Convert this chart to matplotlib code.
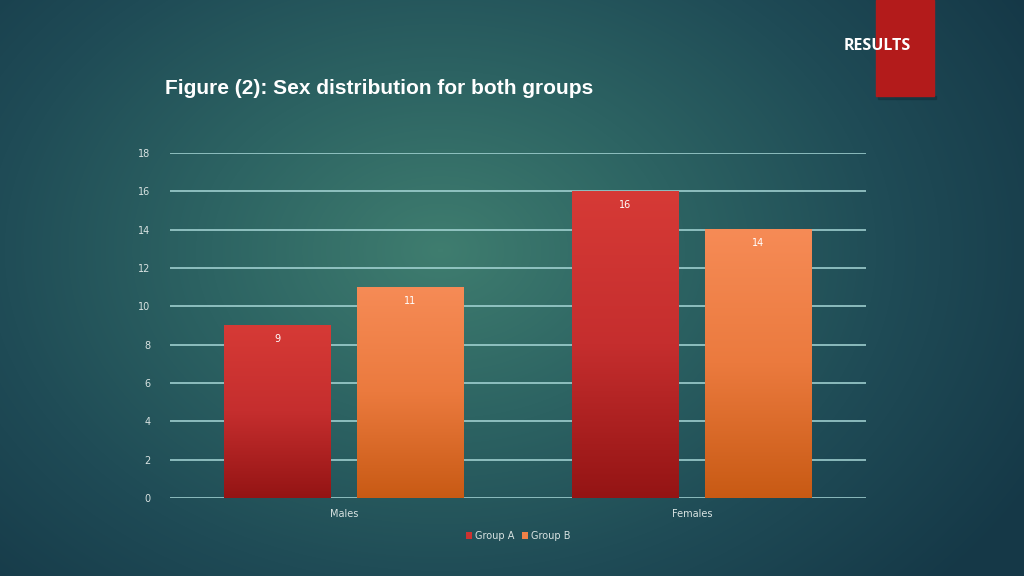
import numpy as np
import matplotlib.pyplot as plt
from matplotlib.colors import LinearSegmentedColormap
from matplotlib.patches import Rectangle

categories = ["Males", "Females"]
group_a = [9, 16]
group_b = [11, 14]
series_names = ["Group A", "Group B"]
yticks = [0, 2, 4, 6, 8, 10, 12, 14, 16, 18]

fig = plt.figure(figsize=(10.24, 5.76), dpi=100)

# background: radial teal gradient
bg = fig.add_axes([0, 0, 1, 1])
yy, xx = np.mgrid[0:576, 0:1024]
r = np.sqrt(((xx - 440) / 680.0) ** 2 + ((yy - 250) / 500.0) ** 2)
r = np.clip(r, 0, 1)
bg_cmap = LinearSegmentedColormap.from_list("bg", ["#3F7D6F", "#2D6463", "#1F4B56", "#153847"])
bg.imshow(r, cmap=bg_cmap, aspect="auto", extent=[0, 1024, 576, 0])
bg.set_xlim(0, 1024)
bg.set_ylim(576, 0)
bg.axis("off")

# red tab + headings
bg.add_patch(Rectangle((876, 0), 58, 96, color="#B31B1B", zorder=2))
bg.add_patch(Rectangle((878, 96), 58, 3, color="#0E2A33", alpha=0.4, zorder=1))
bg.text(877, 46, "RESULTS", color="white", fontsize=11.5, fontweight="bold",
        ha="center", va="center", family="Open Sans", zorder=3)
bg.text(165, 89, "Figure (2): Sex distribution for both groups", color="white",
        fontsize=15, fontweight="bold", ha="left", va="center",
        family="Liberation Sans", zorder=3)

ax = fig.add_axes([170 / 1024, 1 - 498 / 576, 696 / 1024, 345 / 576])
ax.set_facecolor("none")

width = 0.307
offset = 0.191
x = np.arange(len(categories))
cmaps = [
    LinearSegmentedColormap.from_list("ga", ["#D63A36", "#C52E2E", "#941414"]),
    LinearSegmentedColormap.from_list("gb", ["#F68B56", "#EB7A3E", "#C85A14"]),
]
grad = np.linspace(0, 1, 256).reshape(-1, 1)
for i, vals in enumerate([group_a, group_b]):
    xs = x + (offset if i else -offset)
    for xc, v in zip(xs, vals):
        ax.imshow(grad, cmap=cmaps[i], aspect="auto", zorder=3,
                  extent=[xc - width / 2, xc + width / 2, 0, v], origin="upper")
        ax.text(xc, v - 0.72, str(v), color="white", fontsize=7, ha="center",
                va="center", zorder=4)
# legend proxies
for i, name in enumerate(series_names):
    ax.bar([0], [0], color=cmaps[i](0.3), label=name)

ax.set_yticks(yticks)
ax.grid(axis="y", color="#A8D8D8", linewidth=1.1, zorder=1)
ax.set_axisbelow(True)
ax.set_xticks(x)
ax.set_xticklabels(categories)
ax.tick_params(colors="#D9E3E2", labelsize=7, length=0, pad=8)
ax.tick_params(axis="y", pad=14)
for s in ax.spines.values():
    s.set_visible(False)
ax.set_xlim(-0.5, 1.5)
ax.set_ylim(0, 18)

leg = ax.legend(loc="upper center", bbox_to_anchor=(0.5, -0.07), ncol=2, frameon=False,
                fontsize=7, handlelength=0.6, handleheight=0.6, handletextpad=0.3,
                columnspacing=0.8)
for t in leg.get_texts():
    t.set_color("#D9E3E2")

fig.savefig("out.png", dpi=100)
